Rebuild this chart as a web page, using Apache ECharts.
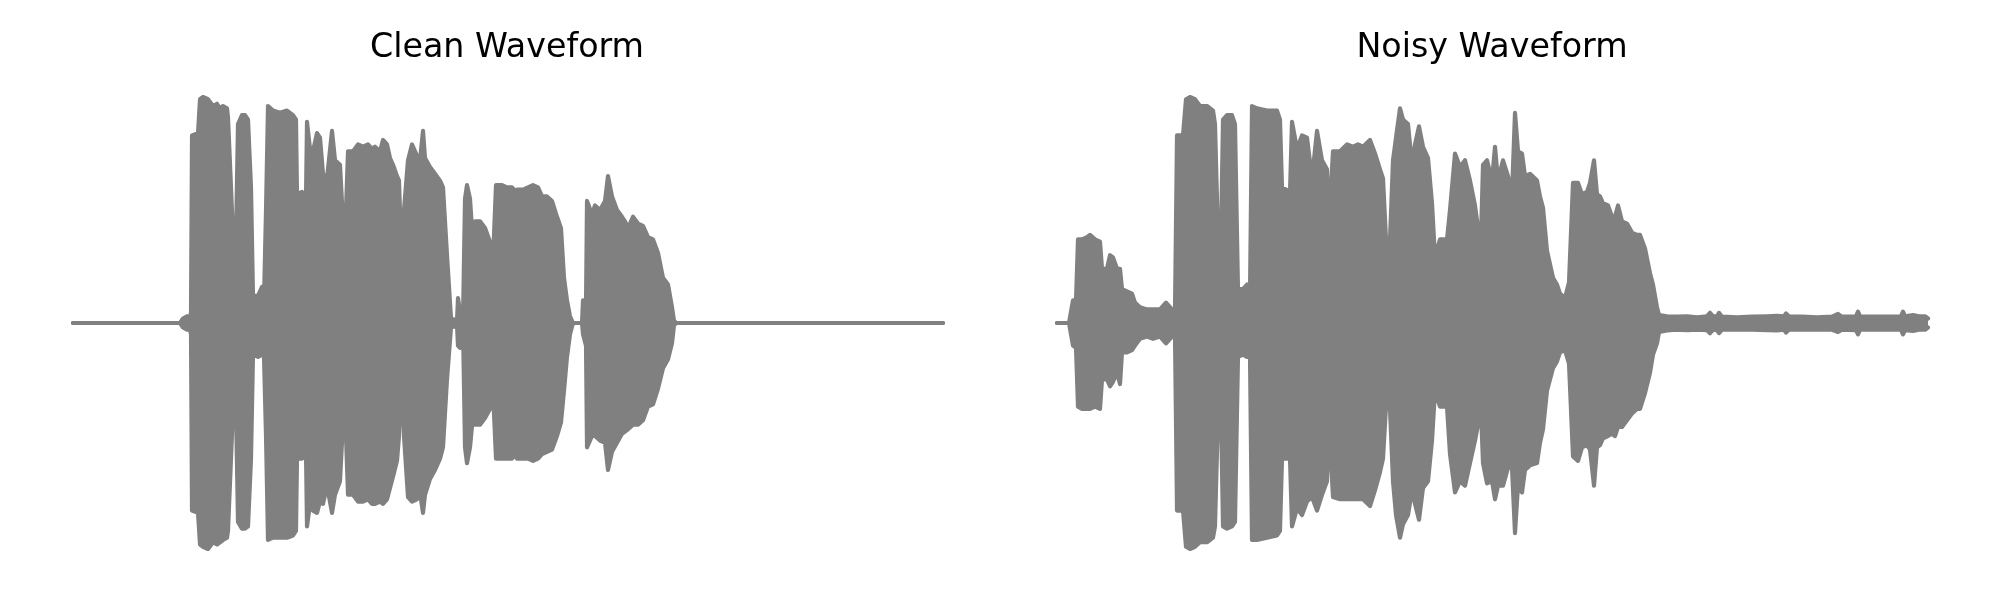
<!DOCTYPE html>
<html><head><meta charset="utf-8">
<script src="https://cdn.jsdelivr.net/npm/echarts@6/dist/echarts.min.js"></script>
<style>html,body{margin:0;padding:0;background:#fff}#c{width:2000px;height:600px}</style>
</head><body><div id="c"></div>
<script>
// Time positions (relative frames) and envelope amplitudes
const cleanT = [0,107,110,114,117,118,119,125,127,130,135,140,144,147,150,154,155,158,160,163,165,169,172,175,178,180,185,189,191,193,195,200,207,214,220,223,224,229,233,234,237,240,244,247,250,254,259,262,267,270,273,275,280,285,290,295,299,302,307,310,314,317,320,324,326,329,331,335,339,344,347,350,352,357,362,367,370,374,378,384,385,387,390,392,394,397,400,402,407,412,417,420,423,429,434,439,441,442,444,450,455,460,465,469,474,479,484,488,491,494,497,500,509,510,513,514,519,522,527,532,535,539,544,549,552,555,560,565,570,575,580,585,590,595,599,601,603,870];
const cleanUpper = [0,0,0.02,0.03,0.02,0.05,0.83,0.84,0.99,1.0,0.99,0.96,0.97,0.95,0.96,0.95,0.91,0.6,0.38,0.38,0.88,0.92,0.92,0.9,0.6,0.12,0.12,0.16,0.1,0.5,0.96,0.94,0.93,0.94,0.92,0.9,0.57,0.58,0.56,0.89,0.77,0.76,0.84,0.82,0.66,0.64,0.85,0.72,0.7,0.45,0.5,0.76,0.76,0.79,0.78,0.79,0.77,0.78,0.76,0.81,0.79,0.73,0.7,0.65,0.63,0.22,0.5,0.72,0.79,0.74,0.72,0.85,0.73,0.69,0.66,0.63,0.6,0.3,0.02,0.01,0.11,0.05,0.02,0.55,0.61,0.55,0.35,0.45,0.45,0.42,0.36,0.28,0.61,0.61,0.6,0.6,0.59,0.3,0.59,0.59,0.6,0.61,0.6,0.56,0.56,0.54,0.47,0.42,0.2,0.1,0.03,0,0,0.1,0.08,0.54,0.48,0.52,0.5,0.54,0.65,0.56,0.5,0.47,0.45,0.42,0.47,0.44,0.43,0.38,0.37,0.31,0.2,0.17,0.07,0.01,0,0];
const cleanLower = [0,0,-0.02,-0.03,-0.03,-0.05,-0.83,-0.84,-0.98,-0.99,-1.0,-0.97,-0.98,-0.97,-0.96,-0.95,-0.92,-0.6,-0.38,-0.38,-0.88,-0.91,-0.91,-0.9,-0.6,-0.14,-0.15,-0.14,-0.15,-0.5,-0.96,-0.95,-0.95,-0.95,-0.94,-0.92,-0.6,-0.6,-0.58,-0.9,-0.8,-0.83,-0.84,-0.79,-0.8,-0.72,-0.84,-0.76,-0.7,-0.44,-0.5,-0.76,-0.76,-0.79,-0.79,-0.78,-0.8,-0.8,-0.79,-0.8,-0.78,-0.73,-0.68,-0.61,-0.5,-0.21,-0.5,-0.77,-0.79,-0.78,-0.75,-0.84,-0.76,-0.69,-0.65,-0.6,-0.55,-0.25,-0.02,-0.01,-0.1,-0.11,-0.02,-0.55,-0.62,-0.55,-0.41,-0.45,-0.45,-0.42,-0.38,-0.3,-0.6,-0.6,-0.6,-0.6,-0.59,-0.3,-0.6,-0.6,-0.6,-0.61,-0.6,-0.58,-0.57,-0.56,-0.5,-0.44,-0.3,-0.15,-0.05,0,0,-0.05,-0.1,-0.55,-0.5,-0.5,-0.52,-0.53,-0.65,-0.57,-0.53,-0.49,-0.48,-0.47,-0.45,-0.45,-0.43,-0.37,-0.36,-0.29,-0.2,-0.16,-0.09,-0.01,0,0];

const noisyT = [0,12,14,16,19,21,25,30,33,38,43,45,50,53,56,60,63,65,70,75,78,83,90,96,103,109,115,118,120,126,129,133,138,143,150,156,158,161,164,166,170,175,178,181,186,190,193,195,200,210,220,223,225,233,235,240,245,250,255,260,265,270,272,276,283,290,296,301,306,313,318,323,326,329,333,336,339,343,346,351,355,358,362,366,371,375,378,383,390,393,398,403,408,413,418,421,424,426,430,435,438,441,446,451,455,458,461,465,468,473,480,483,486,490,493,496,500,503,508,512,516,521,525,530,533,537,540,543,546,551,555,558,561,565,570,575,580,583,588,593,596,600,602,610,620,630,640,650,653,656,660,662,665,680,695,710,720,727,729,732,745,760,775,781,785,799,801,803,815,830,844,846,848,856,862,868,871];
const noisyUpper = [0,0,0.05,0.1,0.1,0.37,0.37,0.38,0.39,0.37,0.36,0.24,0.24,0.3,0.29,0.24,0.24,0.15,0.14,0.13,0.09,0.07,0.06,0.06,0.06,0.09,0.06,0.06,0.83,0.83,0.99,1.0,0.99,0.96,0.96,0.94,0.88,0.38,0.38,0.9,0.92,0.92,0.88,0.15,0.15,0.17,0.13,0.96,0.95,0.94,0.94,0.9,0.6,0.58,0.89,0.77,0.83,0.82,0.64,0.85,0.72,0.68,0.44,0.76,0.76,0.79,0.78,0.79,0.78,0.81,0.75,0.68,0.64,0.37,0.37,0.72,0.82,0.95,0.9,0.88,0.7,0.79,0.87,0.78,0.73,0.53,0.29,0.37,0.37,0.5,0.75,0.69,0.72,0.63,0.52,0.42,0.38,0.7,0.72,0.63,0.78,0.63,0.72,0.65,0.57,0.93,0.76,0.75,0.65,0.66,0.63,0.56,0.51,0.32,0.26,0.2,0.17,0.13,0.11,0.18,0.62,0.62,0.57,0.58,0.62,0.72,0.57,0.56,0.53,0.52,0.47,0.47,0.52,0.45,0.44,0.4,0.39,0.39,0.33,0.22,0.17,0.07,0.035,0.03,0.028,0.03,0.025,0.03,0.045,0.03,0.03,0.045,0.028,0.025,0.028,0.03,0.032,0.03,0.042,0.03,0.028,0.025,0.028,0.04,0.028,0.03,0.05,0.03,0.028,0.028,0.03,0.05,0.03,0.035,0.03,0.03,0.02];
const noisyLower = [0,0,-0.05,-0.1,-0.11,-0.37,-0.38,-0.38,-0.38,-0.37,-0.38,-0.25,-0.25,-0.28,-0.26,-0.22,-0.27,-0.13,-0.13,-0.12,-0.1,-0.07,-0.06,-0.07,-0.06,-0.09,-0.06,-0.06,-0.83,-0.83,-0.99,-1.0,-0.99,-0.97,-0.97,-0.95,-0.9,-0.4,-0.4,-0.9,-0.91,-0.9,-0.88,-0.15,-0.14,-0.15,-0.15,-0.96,-0.96,-0.95,-0.94,-0.92,-0.6,-0.6,-0.9,-0.82,-0.85,-0.79,-0.77,-0.83,-0.76,-0.7,-0.44,-0.77,-0.78,-0.78,-0.78,-0.78,-0.78,-0.81,-0.74,-0.66,-0.6,-0.37,-0.38,-0.7,-0.85,-0.95,-0.89,-0.85,-0.74,-0.8,-0.87,-0.73,-0.7,-0.52,-0.3,-0.37,-0.37,-0.58,-0.75,-0.7,-0.72,-0.62,-0.52,-0.45,-0.39,-0.62,-0.71,-0.7,-0.78,-0.72,-0.72,-0.64,-0.64,-0.93,-0.72,-0.75,-0.65,-0.63,-0.62,-0.53,-0.47,-0.3,-0.25,-0.2,-0.17,-0.13,-0.12,-0.18,-0.59,-0.61,-0.55,-0.54,-0.56,-0.72,-0.55,-0.54,-0.51,-0.5,-0.49,-0.5,-0.46,-0.46,-0.43,-0.4,-0.38,-0.38,-0.31,-0.22,-0.14,-0.09,-0.04,-0.033,-0.03,-0.032,-0.03,-0.032,-0.045,-0.03,-0.032,-0.045,-0.03,-0.03,-0.03,-0.032,-0.033,-0.03,-0.042,-0.03,-0.03,-0.028,-0.03,-0.04,-0.03,-0.032,-0.05,-0.03,-0.03,-0.03,-0.03,-0.05,-0.032,-0.035,-0.03,-0.03,-0.02];

const titles = ['Clean Waveform', 'Noisy Waveform'];

const zip = (t, v) => t.map((x, i) => [x, v[i]]);
const lineColor = '#808080';
function wave(idx, t, v) {
  return {
    type: 'line', xAxisIndex: idx, yAxisIndex: idx,
    data: zip(t, v), symbol: 'none', showSymbol: false, silent: true,
    lineStyle: { color: lineColor, width: 4.17, cap: 'round', join: 'round' },
    areaStyle: { color: lineColor, opacity: 1 },
    animation: false
  };
}

const chart = echarts.init(document.getElementById('c'), null, { renderer: 'canvas' });
chart.setOption({
  animation: false,
  backgroundColor: '#ffffff',
  grid: [
    { left: 73, top: 97, width: 870, height: 452 },
    { left: 1057, top: 97, width: 871, height: 452 }
  ],
  xAxis: [
    { type: 'value', gridIndex: 0, min: 0, max: 870, show: false },
    { type: 'value', gridIndex: 1, min: 0, max: 871, show: false }
  ],
  yAxis: [
    { type: 'value', gridIndex: 0, min: -1, max: 1, show: false },
    { type: 'value', gridIndex: 1, min: -1, max: 1, show: false }
  ],
  series: [
    wave(0, cleanT, cleanUpper), wave(0, cleanT, cleanLower),
    wave(1, noisyT, noisyUpper), wave(1, noisyT, noisyLower)
  ],
  graphic: [
    { type: 'text', x: 507, y: 48, silent: true,
      style: { text: titles[0], fill: '#000', fontSize: 33.3, fontFamily: 'DejaVu Sans', align: 'center', verticalAlign: 'middle' } },
    { type: 'text', x: 1492, y: 48, silent: true,
      style: { text: titles[1], fill: '#000', fontSize: 33.3, fontFamily: 'DejaVu Sans', align: 'center', verticalAlign: 'middle' } }
  ]
});
</script>
</body></html>
